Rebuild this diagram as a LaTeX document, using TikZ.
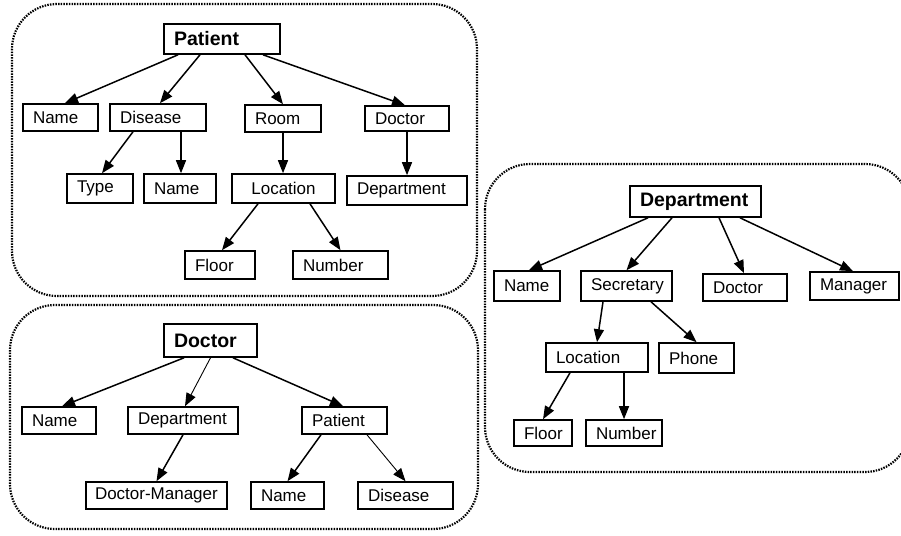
\documentclass[tikz,border=0pt]{standalone}
\usepackage{fontspec}
\setmainfont{Liberation Sans}
\usepackage{tikz}
\usetikzlibrary{arrows.meta}

\begin{document}
\begin{tikzpicture}[x=1pt,y=-1pt,
    box/.style={draw, line width=1.6pt, inner xsep=10pt, inner ysep=0pt, align=left,
                font=\fontsize{17}{19}\selectfont, minimum height=28pt},
    head/.style={box, font=\bfseries\fontsize{19.5}{22}\selectfont},
    arr/.style={-{Triangle[length=13pt,width=10pt]}, line width=1.5pt},
    thin arr/.style={arr, line width=0.9pt},
    frame/.style={line width=2.2pt, dash pattern=on 1.5pt off 1.2pt, rounded corners=45pt}]

\useasboundingbox (0,0) rectangle (901,535);

\def\patientframe{(12,4) rectangle (477,296)}
\def\doctorframe{(10,305) rectangle (478,529)}
\def\departmentframe{(485,164) rectangle (910,472)}

% outline
\draw[frame] \patientframe \doctorframe \departmentframe;

% Patient
\node[head, text width=96pt, minimum height=30pt] (pRoot) at (222,39) {Patient};
\node[box, text width=55pt, minimum height=27pt] (pName) at (60.5,117.5) {Name};
\node[box, text width=76pt, minimum height=27pt] (pDisease) at (158,117.5) {Disease};
\node[box, text width=56pt, minimum height=27pt] (pRoom) at (283,118.5) {Room};
\node[box, text width=64pt, minimum height=25pt] (pDoctor) at (407,118.5) {Doctor};
\node[box, text width=46pt, minimum height=29pt] (pType) at (100,188.5) {Type};
\node[box, text width=52pt, minimum height=29pt] (pDisName) at (180,188.5) {Name};
\node[box, text width=83pt, align=center, minimum height=29pt] (pLocation) at (283.5,188.5) {Location};
\node[box, text width=100pt, minimum height=29pt] (pDepartment) at (407,190.5) {Department};
\node[box, text width=50pt] (pFloor) at (220,265) {Floor};
\node[box, text width=75pt] (pNumber) at (340.5,265) {Number};

\draw[arr] ([xshift=-44pt]pRoot.south) -- ([xshift=4.5pt]pName.north);
\draw[arr] ([xshift=-22pt]pRoot.south) -- ([xshift=2pt]pDisease.north);
\draw[arr] ([xshift=23pt]pRoot.south) -- (pRoom.north);
\draw[arr] ([xshift=41pt]pRoot.south) -- ([xshift=-2pt]pDoctor.north);
\draw[arr] ([xshift=-25pt]pDisease.south) -- ([xshift=2pt]pType.north);
\draw[arr] ([xshift=23pt]pDisease.south) -- ([xshift=1pt]pDisName.north);
\draw[arr] (pRoom.south) -- (pRoom.south |- pLocation.north);
\draw[arr] (pDoctor.south) -- (pDepartment.north);
\draw[arr] ([xshift=-25.5pt]pLocation.south) -- ([xshift=2pt]pFloor.north);
\draw[arr] ([xshift=26.5pt]pLocation.south) -- (pNumber.north);

% Doctor
\node[head, text width=73pt, minimum height=33pt] (dRoot) at (210.5,340.5) {Doctor};
\node[box, text width=54pt, minimum height=27pt] (dName) at (59,420.5) {Name};
\node[box, text width=90pt, minimum height=27pt] (dDepartment) at (183,420.5) {Department};
\node[box, text width=65pt, minimum height=27pt] (dPatient) at (344.5,420.5) {Patient};
\node[box, text width=123pt, inner xsep=9pt, minimum height=27pt] (dManager) at (156.5,495.5) {\mbox{Doctor-Manager}};
\node[box, text width=53pt, minimum height=27pt] (dPatName) at (287.5,495.5) {Name};
\node[box, text width=75pt, minimum height=27pt] (dDisease) at (405.5,495.5) {Disease};

\draw[arr] ([xshift=-26.5pt]dRoot.south) -- ([xshift=3pt]dName.north);
\draw[thin arr] (dRoot.south) -- ([xshift=2pt]dDepartment.north);
\draw[arr] ([xshift=22.5pt]dRoot.south) -- ([xshift=-1.5pt]dPatient.north);
\draw[arr] (dDepartment.south) -- (dManager.north);
\draw[arr] ([xshift=-23.5pt]dPatient.south) -- (dPatName.north);
\draw[thin arr] ([xshift=22.5pt]dPatient.south) -- (dDisease.north);

% Department
\node[head, text width=111pt, minimum height=31pt] (eRoot) at (695.5,201.5) {Department};
\node[box, text width=46pt, minimum height=30pt] (eName) at (527,286) {Name};
\node[box, text width=71pt, minimum height=30pt] (eSecretary) at (626.5,286) {Secretary};
\node[box, text width=64pt, minimum height=27pt] (eDoctor) at (745,287.5) {Doctor};
\node[box, text width=69pt] (eManager) at (854.5,286) {Manager};
\node[box, text width=82pt, minimum height=29pt] (eLocation) at (597,357.5) {Location};
\node[box, text width=55pt, minimum height=30pt] (ePhone) at (696.5,358) {Phone};
\node[box, text width=38pt, minimum height=26pt] (eFloor) at (543,433) {Floor};
\node[box, text width=56pt, minimum height=26pt] (eNumber) at (624,433) {Number};

\draw[arr] ([xshift=-47.5pt]eRoot.south) -- ([xshift=2pt]eName.north);
\draw[arr] ([xshift=-23.5pt]eRoot.south) -- (eSecretary.north);
\draw[arr] ([xshift=23.5pt]eRoot.south) -- ([xshift=-1pt]eDoctor.north);
\draw[arr] ([xshift=44.5pt]eRoot.south) -- ([xshift=-1.5pt]eManager.north);
\draw[arr] ([xshift=-23.5pt]eSecretary.south) -- (eLocation.north);
\draw[arr] ([xshift=24.5pt]eSecretary.south) -- (ePhone.north);
\draw[arr] ([xshift=-27pt]eLocation.south) -- (eFloor.north);
\draw[arr] ([xshift=27pt]eLocation.south) -- (eNumber.north);

\end{tikzpicture}
\end{document}
